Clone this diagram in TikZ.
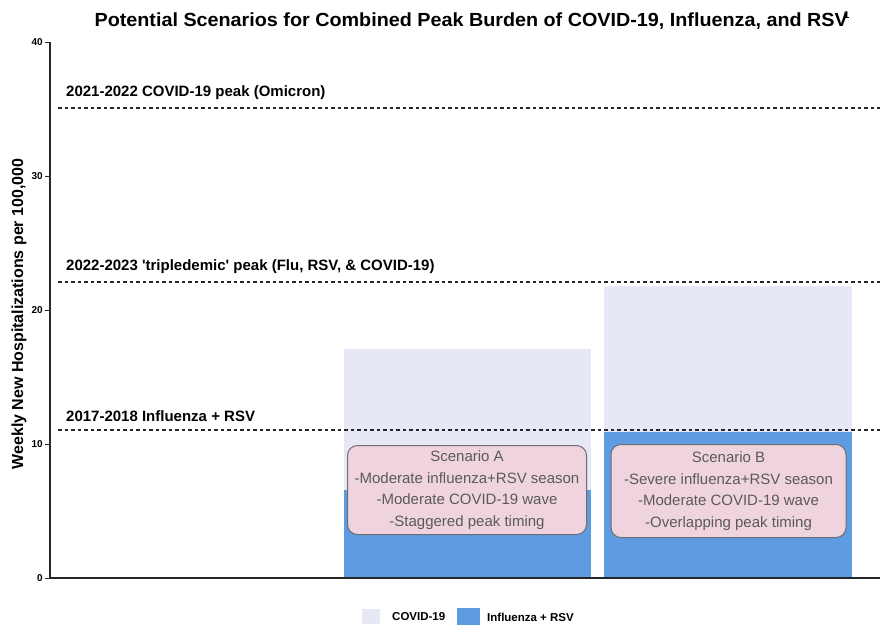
\documentclass[tikz,border=0pt]{standalone}
\usepackage{fontspec}
\setmainfont{Liberation Sans}
\definecolor{covidc}{HTML}{E6E9F5}
\definecolor{fluc}{HTML}{5E9BE3}
\definecolor{pinkc}{HTML}{EFD4DF}
\definecolor{boxline}{HTML}{6E6E6E}
\definecolor{boxtext}{HTML}{5A5A5A}
\begin{document}
\begin{tikzpicture}[x=1pt,y=-1pt,
  covidbar/.style={fill=covidc, draw=none},
  flubar/.style={fill=fluc, draw=none},
  refline/.style={dash pattern=on 3.5pt off 3pt, line width=1.1pt, black!85},
  reflabel/.style={anchor=south west, inner sep=0pt, font=\bfseries\fontsize{15}{17}\selectfont},
  scenbox/.style={draw=boxline, line width=1pt, rounded corners=10pt, fill=pinkc, text=boxtext, align=center,
    font=\fontsize{15}{21.7}\selectfont, inner sep=0pt},
  ticklab/.style={anchor=east, inner sep=0pt, font=\bfseries\fontsize{10}{11}\selectfont},
  axisline/.style={line width=1.2pt, black!85},
  legtext/.style={anchor=west, inner sep=0pt, font=\bfseries\fontsize{11.5}{12}\selectfont},
  swatch/.style={minimum width=18pt, minimum height=15pt, inner sep=0pt}
]
\useasboundingbox (0,0) rectangle (880,627);

% title
\node[font=\bfseries\fontsize{19}{22}\selectfont, inner sep=0pt] (title) at (472,21)
  {\scalebox{1.04}[1]{Potential Scenarios for Combined Peak Burden of COVID-19, Influenza, and RSV\kern-4pt\raisebox{8pt}{\fontsize{10}{10}\selectfont 1}}};

% bars
\fill[covidbar] (344,349) rectangle (591,578);
\fill[flubar] (344,490) rectangle (591,578);
\fill[covidbar] (604,286) rectangle (852,578);
\fill[flubar] (604,432) rectangle (852,578);

% reference lines
\coordinate (l1a) at (58,108); \coordinate (l1b) at (880,108);
\coordinate (l2a) at (58,282); \coordinate (l2b) at (880,282);
\coordinate (l3a) at (58,430); \coordinate (l3b) at (880,430);
\draw[refline] (l1a) -- (l1b);
\draw[refline] (l2a) -- (l2b);
\draw[refline] (l3a) -- (l3b);
\node[reflabel] (lab1) at (66,100) {2021-2022 COVID-19 peak (Omicron)};
\node[reflabel] (lab2) at (66,274) {2022-2023 \textquotesingle tripledemic\textquotesingle\ peak (Flu, RSV, \& COVID-19)};
\node[reflabel] (lab3) at (66,422) {2017-2018 Influenza + RSV};

% axes
\coordinate (o) at (50,578);
\coordinate (ytop) at (50,42);
\coordinate (xend) at (880,578);
\draw[axisline] (ytop) -- (o) -- (xend);
\foreach \v/\py in {0/578,10/444,20/310,30/176,40/42}{
  \draw[axisline, line width=0.8pt] (45,\py) -- (50,\py);
  \node[ticklab] at (43,\py) {\v};
}
\node[rotate=90, font=\bfseries\fontsize{16}{18}\selectfont] (ylab) at (19,314) {Weekly New Hospitalizations per 100,000};

% scenario boxes
\node[scenbox, minimum width=239pt, minimum height=89pt] (scA) at (467,490)
  {Scenario A\\-Moderate influenza+RSV season\\-Moderate COVID-19 wave\\-Staggered peak timing};
\node[scenbox, minimum width=235pt, minimum height=93pt] (scB) at (728.5,491)
  {Scenario B\\-Severe influenza+RSV season\\-Moderate COVID-19 wave\\-Overlapping peak timing};

% legend
\node[swatch, fill=covidc] (swA) at (371,616) {};
\node[legtext] (ltA) at (392,617) {COVID-19};
\node[swatch, fill=fluc, minimum width=23pt, minimum height=17pt] (swB) at (468.5,616) {};
\node[legtext] (ltB) at (487,617) {Influenza + RSV};
\end{tikzpicture}
\end{document}
